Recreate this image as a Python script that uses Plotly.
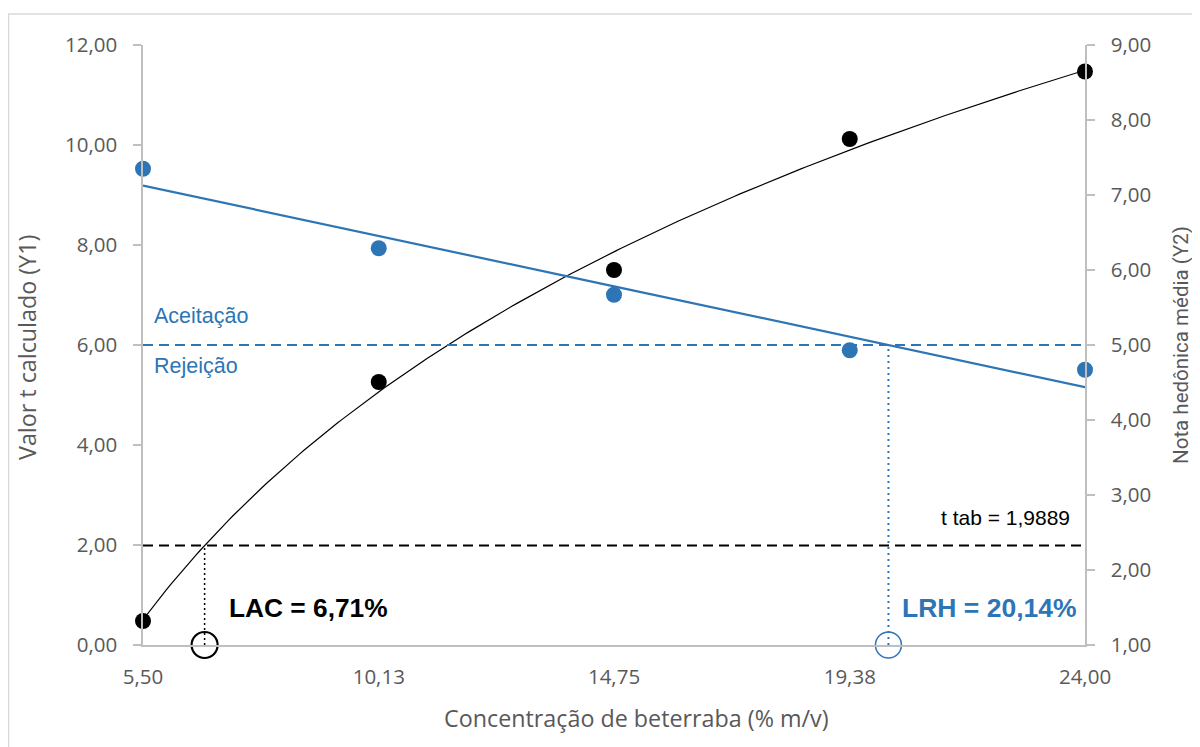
import numpy as np
import plotly.graph_objects as go

# ---- data ----
concentracao = [5.50, 10.13, 14.75, 19.38, 24.00]
valor_t = [0.48, 5.26, 7.50, 10.12, 11.47]          # Y1 (black)
nota_hedonica = [7.35, 6.29, 5.67, 4.93, 4.67]      # Y2 (blue)
x_tickvals = [5.50, 10.13, 14.75, 19.38, 24.00]
x_ticktext = ["5,50", "10,13", "14,75", "19,38", "24,00"]
t_tab = 1.9889
nota_corte = 5.0
lac = 6.71
lrh = 20.14

BLUE = "#2E75B6"
GRAY = "#595959"
AXIS = "#BFBFBF"

# trendlines (log fit for Y1, linear fit for Y2), as in the original spreadsheet
xs = np.linspace(min(concentracao), max(concentracao), 200)
a_log, b_log = np.polyfit(np.log(concentracao), valor_t, 1)
m_lin, c_lin = np.polyfit(concentracao, nota_hedonica, 1)
y1_fit = a_log * np.log(xs) + b_log
y2_fit = m_lin * xs + c_lin

fig = go.Figure()

# reference lines
fig.add_trace(go.Scatter(x=[5.5, 24], y=[t_tab, t_tab], mode="lines",
                         line=dict(color="black", width=2, dash="10px,6px"),
                         hoverinfo="skip", showlegend=False))
fig.add_trace(go.Scatter(x=[5.5, 24], y=[nota_corte, nota_corte], yaxis="y2", mode="lines",
                         line=dict(color=BLUE, width=2, dash="10px,6px"),
                         hoverinfo="skip", showlegend=False))
fig.add_trace(go.Scatter(x=[lac, lac], y=[0, t_tab], mode="lines",
                         line=dict(color="black", width=1.5, dash="2px,3px"),
                         hoverinfo="skip", showlegend=False))
fig.add_trace(go.Scatter(x=[lrh, lrh], y=[1, nota_corte], yaxis="y2", mode="lines",
                         line=dict(color=BLUE, width=2, dash="2px,4px"),
                         hoverinfo="skip", showlegend=False))

# trendlines
fig.add_trace(go.Scatter(x=xs, y=y1_fit, mode="lines",
                         line=dict(color="black", width=1.2), showlegend=False))
fig.add_trace(go.Scatter(x=xs, y=y2_fit, yaxis="y2", mode="lines",
                         line=dict(color=BLUE, width=2.2), showlegend=False))

# points
fig.add_trace(go.Scatter(x=concentracao, y=valor_t, mode="markers",
                         marker=dict(color="black", size=16), cliponaxis=False,
                         name="Valor t calculado", showlegend=False))
fig.add_trace(go.Scatter(x=concentracao, y=nota_hedonica, yaxis="y2", mode="markers",
                         marker=dict(color=BLUE, size=16), cliponaxis=False,
                         name="Nota hedônica média", showlegend=False))

# open circles at the limits
fig.add_trace(go.Scatter(x=[lac], y=[0], mode="markers", cliponaxis=False,
                         marker=dict(symbol="circle-open", size=26, color="black",
                                     line=dict(width=2.2, color="black")),
                         hoverinfo="skip", showlegend=False))
fig.add_trace(go.Scatter(x=[lrh], y=[1], yaxis="y2", mode="markers", cliponaxis=False,
                         marker=dict(symbol="circle-open", size=26, color=BLUE,
                                     line=dict(width=1.5, color=BLUE)),
                         hoverinfo="skip", showlegend=False))

tick_font = dict(family="Open Sans", size=20.5, color=GRAY)
title_font = dict(family="Open Sans", size=23.3, color=GRAY)

# the page adds an 8px body margin, so the figure is shifted by 8px
L, T, R_EDGE, B_EDGE = 135, 37, 1077, 637
PW, PH = R_EDGE - L, B_EDGE - T

fig.update_layout(
    width=1200, height=747,
    margin=dict(l=L, r=1200 - R_EDGE, t=T, b=747 - B_EDGE, autoexpand=False),
    paper_bgcolor="white", plot_bgcolor="white",
    separators=",.",
    xaxis=dict(range=[5.5, 24], tickvals=x_tickvals, ticktext=x_ticktext,
               showgrid=False, zeroline=False, showline=True, linecolor=AXIS, linewidth=1.5,
               ticks="outside", ticklen=13, tickcolor="rgba(0,0,0,0)",
               tickfont=tick_font, automargin=False),
    yaxis=dict(range=[0, 12], dtick=2, tickformat=".2f",
               showgrid=False, zeroline=False, showline=True, linecolor=AXIS, linewidth=1.5,
               ticks="outside", ticklen=8, tickcolor=AXIS, tickwidth=1.5,
               ticklabelstandoff=12, tickfont=tick_font, automargin=False),
    yaxis2=dict(range=[1, 9], dtick=1, tickformat=".2f", overlaying="y", side="right",
                showgrid=False, zeroline=False, showline=True, linecolor=AXIS, linewidth=1.5,
                ticks="outside", ticklen=8, tickcolor=AXIS, tickwidth=1.5,
                ticklabelstandoff=12, tickfont=tick_font, automargin=False,
                title=dict(text="Nota hedônica média (Y2)", font=dict(family="Roboto", size=20.5, color=GRAY), standoff=23)),
    shapes=[dict(type="rect", xref="paper", yref="paper",
                 x0=(0.5 - L) / PW, x1=(1215 - L) / PW,
                 y0=(B_EDGE - 746) / PH, y1=(B_EDGE - 6) / PH,
                 line=dict(color="#D9D9D9", width=1.5), fillcolor="rgba(0,0,0,0)", layer="below")],
    annotations=[
        dict(xref="paper", yref="paper", x=(628 - L) / PW, y=(B_EDGE - 710) / PH,
             text="Concentração de beterraba (% m/v)", showarrow=False,
             xanchor="center", yanchor="middle", font=title_font),
        dict(xref="paper", yref="paper", x=(2 - L) / PW, y=(B_EDGE - 340) / PH,
             text="Valor t calculado (Y1)", showarrow=False, textangle=-90, borderpad=0,
             xanchor="left", yanchor="middle", font=title_font),
        dict(x=5.68, y=6.58, text="Aceitação", showarrow=False, xanchor="left", yanchor="middle",
             font=dict(family="Liberation Sans", size=21.5, color=BLUE)),
        dict(x=5.68, y=5.58, text="Rejeição", showarrow=False, xanchor="left", yanchor="middle",
             font=dict(family="Liberation Sans", size=21.5, color=BLUE)),
        dict(x=23.74, y=2.56, text="t tab = 1,9889", showarrow=False, xanchor="right", yanchor="middle",
             font=dict(family="Liberation Sans", size=21, color="black")),
        dict(x=7.15, y=0.74, text="<b>LAC = 6,71%</b>", showarrow=False, xanchor="left", yanchor="middle",
             font=dict(family="Liberation Sans", size=26.3, color="black")),
        dict(x=23.88, y=0.74, text="<b>LRH = 20,14%</b>", showarrow=False, xanchor="right", yanchor="middle",
             font=dict(family="Liberation Sans", size=26.5, color=BLUE)),
    ],
)

fig.write_html("out.html")
